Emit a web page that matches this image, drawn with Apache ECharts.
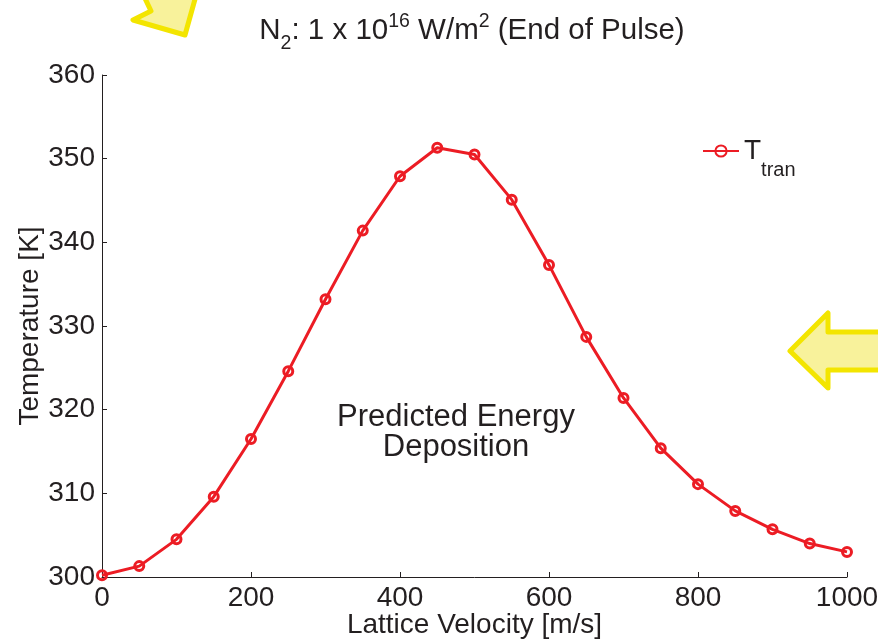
<!DOCTYPE html>
<html>
<head>
<meta charset="utf-8">
<script src="https://cdn.jsdelivr.net/npm/echarts@6/dist/echarts.min.js"></script>
<style>
html,body{margin:0;padding:0;background:#fff;}
#chart{width:878px;height:642px;}
</style>
</head>
<body>
<div id="chart"></div>
<script>
// Lattice velocity [m/s]
const velocity = [0, 50, 100, 150, 200, 250, 300, 350, 400, 450, 500, 550, 600, 650, 700, 750, 800, 850, 900, 950, 1000];
// T_tran [K]
const tTran = [300.2, 301.3, 304.5, 309.6, 316.5, 324.6, 333.2, 341.4, 347.9, 351.3, 350.5, 345.1, 337.3, 328.7, 321.4, 315.4, 311.1, 307.9, 305.7, 304.0, 303.0];
const seriesName = 'T_tran';
const annotation = 'Predicted Energy\nDeposition';

const FONT = 'Liberation Sans, Arial, sans-serif';
const TXT = '#231f20';
const RED = '#ec1c24';

const chart = echarts.init(document.getElementById('chart'), null, {renderer: 'canvas'});

const option = {
  backgroundColor: '#ffffff',
  animation: false,
  title: {
    text: '{m|N}{s|2}{m|: 1 x 10}{p|16}{m| W/m}{p|2}{m| (End of Pulse)}',
    left: 472,
    top: 12,
    padding: 0,
    textAlign: 'center',
    textStyle: {
      fontFamily: FONT,
      fontWeight: 'normal',
      color: TXT,
      rich: {
        m: {fontSize: 29.5, fontFamily: FONT, color: TXT, lineHeight: 30, padding: [4, 0, 0, 0], verticalAlign: 'top'},
        p: {fontSize: 19.5, fontFamily: FONT, color: TXT, lineHeight: 19, verticalAlign: 'top'},
        s: {fontSize: 19.5, fontFamily: FONT, color: TXT, lineHeight: 19, padding: [22, 0, 0, 0], verticalAlign: 'top'}
      }
    }
  },
  legend: {
    data: [seriesName],
    left: 702,
    top: 137,
    padding: 0,
    itemWidth: 36,
    itemHeight: 14,
    formatter: function () { return '{t|T}{s|tran}'; },
    textStyle: {
      fontFamily: FONT,
      color: TXT,
      rich: {
        t: {fontSize: 28, fontFamily: FONT, color: TXT, lineHeight: 28, verticalAlign: 'top'},
        s: {fontSize: 20, fontFamily: FONT, color: TXT, lineHeight: 20, padding: [23, 0, 0, 0], verticalAlign: 'top'}
      }
    }
  },
  grid: {left: 102, top: 75, width: 745, height: 502, containLabel: false, outerBoundsMode: 'none'},
  xAxis: {
    type: 'value',
    min: 0, max: 1000, interval: 200,
    name: 'Lattice Velocity [m/s]',
    nameLocation: 'middle',
    nameGap: 34,
    nameMoveOverlap: false,
    nameTextStyle: {fontFamily: FONT, fontSize: 28, color: TXT},
    axisLine: {show: true, lineStyle: {color: TXT, width: 1}},
    axisTick: {show: true, inside: true, length: 5, lineStyle: {color: TXT}},
    axisLabel: {fontFamily: FONT, fontSize: 28, color: TXT, margin: 7, showMinLabel: true, showMaxLabel: true,
      formatter: function (v) { return String(v); }},
    splitLine: {show: false}
  },
  yAxis: {
    type: 'value',
    min: 300, max: 360, interval: 10,
    name: 'Temperature [K]',
    nameLocation: 'middle',
    nameGap: 58,
    nameMoveOverlap: false,
    nameRotate: 90,
    nameTextStyle: {fontFamily: FONT, fontSize: 28, color: TXT},
    axisLine: {show: true, lineStyle: {color: TXT, width: 1}},
    axisTick: {show: true, inside: true, length: 5, lineStyle: {color: TXT}},
    axisLabel: {fontFamily: FONT, fontSize: 28, color: TXT, margin: 7, showMinLabel: true, showMaxLabel: true,
      formatter: function (v) { return String(v); }},
    splitLine: {show: false}
  },
  series: [{
    name: seriesName,
    type: 'line',
    data: velocity.map((v, i) => [v, tTran[i]]),
    symbol: 'circle',
    symbolSize: 9,
    showAllSymbol: true,
    clip: false,
    lineStyle: {color: RED, width: 3},
    itemStyle: {color: 'rgba(255,255,255,0)', borderColor: RED, borderWidth: 3}
  }],
  graphic: [
    {
      type: 'text',
      x: 456,
      y: 402,
      style: {
        text: annotation,
        font: '31px ' + FONT,
        fill: TXT,
        align: 'center',
        verticalAlign: 'top',
        lineHeight: 30
      }
    },
    {
      type: 'polygon',
      z: 10,
      shape: {points: [[142, -8], [151, 11], [133, 20], [185, 35], [197, -8]]},
      style: {fill: '#f8f29b', stroke: '#f3e500', lineWidth: 5, lineJoin: 'round'}
    },
    {
      type: 'polygon',
      z: 10,
      shape: {points: [[790, 351], [828, 313], [828, 332], [890, 332], [890, 370], [828, 370], [828, 388]]},
      style: {fill: '#f8f29b', stroke: '#f3e500', lineWidth: 5, lineJoin: 'round'}
    }
  ]
};

chart.setOption(option);
</script>
</body>
</html>
